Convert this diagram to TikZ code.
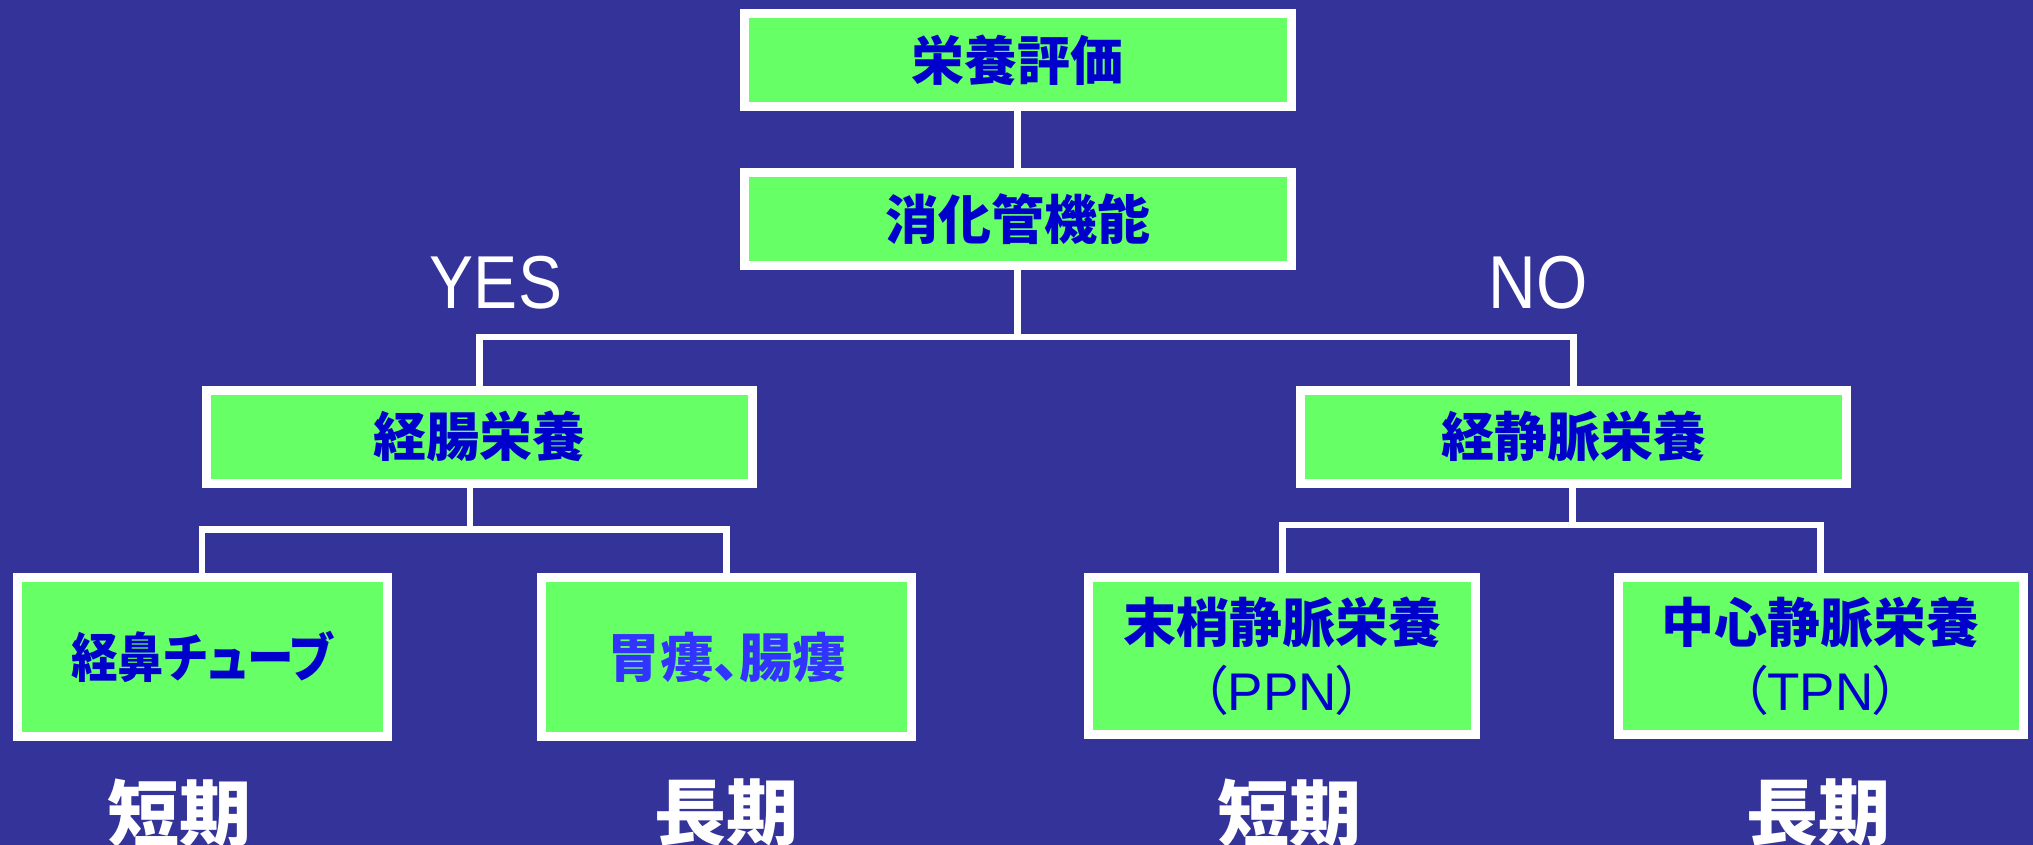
\documentclass[tikz,border=0pt]{standalone}
\usepackage{fontspec}
\setmainfont{Noto Sans CJK JP}
\newfontfamily\cjkp[RawFeature=+palt]{Noto Sans CJK JP}
\newfontfamily\cjkn[RawFeature=+palt,FakeStretch=0.88]{Noto Sans CJK JP}
\newfontfamily\latf{Liberation Sans}
\newfontfamily\latn[FakeStretch=0.88]{Liberation Sans}
\definecolor{bgblue}{HTML}{333399}
\definecolor{boxgreen}{HTML}{66FF66}
\definecolor{txtblue}{HTML}{0000CC}
\definecolor{txtlight}{HTML}{3333FF}
\tikzset{
  box/.style={draw=white, line width=9pt, fill=boxgreen, inner sep=0pt,
    text=txtblue, align=center,
    font=\cjkp\bfseries\fontsize{53}{67.5}\selectfont},
  link/.style={draw=white, line width=6.5pt},
  yn/.style={text=white, inner sep=0pt, font=\latn\fontsize{75}{80}\selectfont},
  term/.style={text=white, inner sep=0pt, font=\bfseries\fontsize{72}{80}\selectfont}
}
\begin{document}
\begin{tikzpicture}[x=1pt,y=-1pt]
\useasboundingbox (0,0) rectangle (2033,845);
\fill[bgblue] (0,0) rectangle (2033,845);
% boxes (outer size minus border width)
\node[box, minimum width=547pt, minimum height=93pt] (n1) at (1017.6,60) {栄養評価};
\node[box, minimum width=547pt, minimum height=93pt] (n2) at (1017.6,219) {消化管機能};
\node[box, minimum width=546pt, minimum height=93pt] (n3) at (479.6,436.6) {経腸栄養};
\node[box, minimum width=546pt, minimum height=93pt] (n4) at (1573.5,436.6) {経静脈栄養};
\node[box, minimum width=370pt, minimum height=159pt,
  font=\cjkn\bfseries\fontsize{53}{67.5}\selectfont] (n5) at (202.2,657) {経鼻チューブ};
\node[box, minimum width=370pt, minimum height=159pt, text=txtlight] (n6) at (726.4,657) {胃瘻、腸瘻};
\node[box, minimum width=387pt, minimum height=157pt] (n7) at (1282.3,656.3)
  {末梢静脈栄養\\{\mdseries （{\latf\mdseries PPN}）}};
\node[box, minimum width=405pt, minimum height=157pt] (n8) at (1820.5,656.3)
  {中心静脈栄養\\{\mdseries （{\latf\mdseries TPN}）}};
% connectors
\coordinate (b2) at (1017.6,337);
\coordinate (b3) at (470,529.5);
\coordinate (b4) at (1572.5,525);
\draw[link] (n1.south) -- (n2.north);
\draw[link] (n2.south) -- (b2);
\draw[link] (n3.north) |- (b2) -| (n4.north);
\draw[link] (n3.south -| b3) -- (b3);
\draw[link] (n5.north) |- (b3) -| (n6.north);
\draw[link] (n4.south -| b4) -- (b4);
\draw[link] (n7.north) |- (b4) -| (n8.north);
% labels
\node[yn] (yes) at (496,283) {YES};
\node[yn] (no) at (1538,283) {NO};
\node[term] (s1) at (179.5,813) {短期};
\node[term] (s2) at (726.4,813) {長期};
\node[term] (s3) at (1289.5,813) {短期};
\node[term] (s4) at (1818.9,813) {長期};
\end{tikzpicture}
\end{document}
